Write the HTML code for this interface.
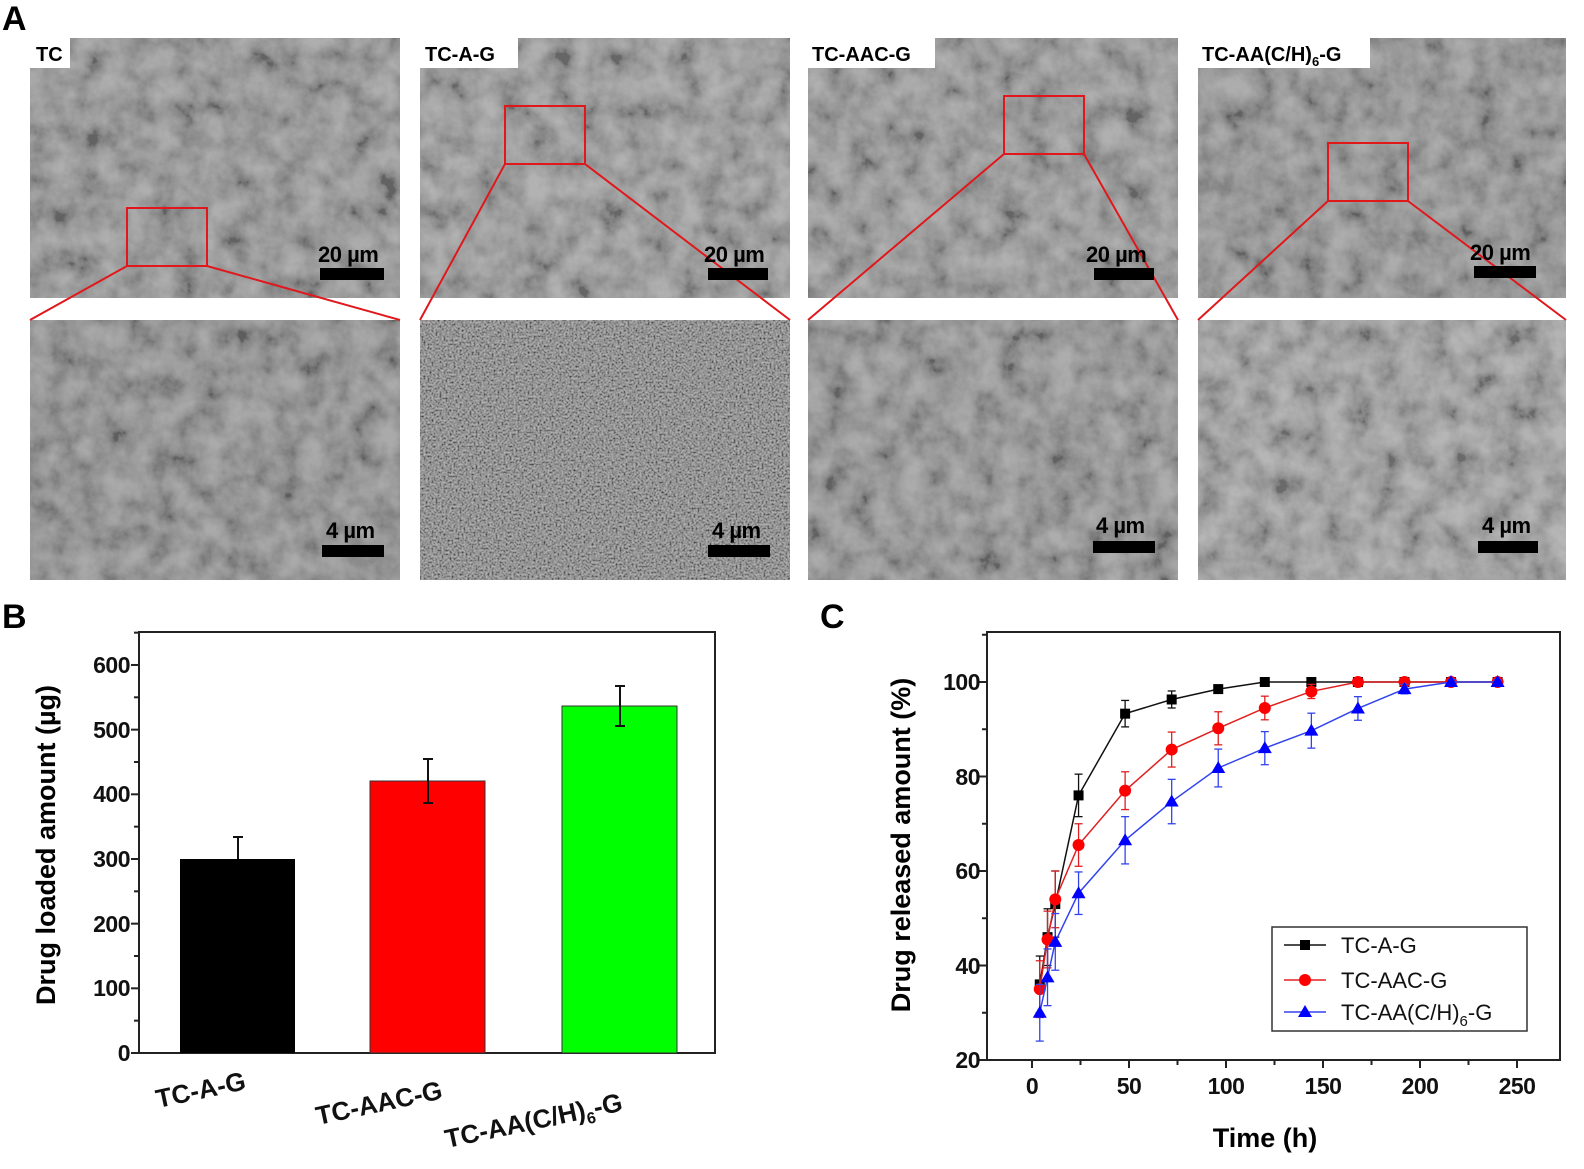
<!DOCTYPE html>
<html><head><meta charset="utf-8"><style>
html,body{margin:0;padding:0;background:#fff;}
svg{display:block;font-family:"Liberation Sans",Arial,sans-serif;}
.b{font-weight:bold;}
</style></head><body>
<svg id="s" width="1584" height="1169" viewBox="0 0 1584 1169" xmlns="http://www.w3.org/2000/svg">
<defs>
<filter id="n1" x="0" y="0" width="100%" height="100%"><feTurbulence type="fractalNoise" baseFrequency="0.04" numOctaves="4" seed="3"/><feColorMatrix type="matrix" values="1.6 0 0 0 -0.3  1.6 0 0 0 -0.3  1.6 0 0 0 -0.3  0 0 0 0 1"/></filter>
<filter id="n2" x="0" y="0" width="100%" height="100%"><feTurbulence type="fractalNoise" baseFrequency="0.5" numOctaves="2" seed="5"/><feColorMatrix type="matrix" values="1.8 0 0 0 -0.45  1.8 0 0 0 -0.45  1.8 0 0 0 -0.45  0 0 0 0 1"/></filter>
</defs>
<text x="2" y="30" class="b" font-size="34">A</text>
<g>
<rect x="30" y="38" width="370" height="260" fill="#8c8c8c"/>
<rect x="420" y="38" width="370" height="260" fill="#929292"/>
<rect x="808" y="38" width="370" height="260" fill="#8f8f8f"/>
<rect x="1198" y="38" width="368" height="260" fill="#8a8a8a"/>
<rect x="30" y="320" width="370" height="260" fill="#868686"/>
<rect x="420" y="320" width="370" height="260" fill="#7c7c7c"/>
<rect x="808" y="320" width="370" height="260" fill="#8a8a8a"/>
<rect x="1198" y="320" width="368" height="260" fill="#989898"/>
</g>
<g opacity="0.3">
<rect x="30" y="38" width="370" height="260" filter="url(#n1)"/>
<rect x="420" y="38" width="370" height="260" filter="url(#n1)"/>
<rect x="808" y="38" width="370" height="260" filter="url(#n1)"/>
<rect x="1198" y="38" width="368" height="260" filter="url(#n1)"/>
<rect x="30" y="320" width="370" height="260" filter="url(#n1)"/>
<rect x="808" y="320" width="370" height="260" filter="url(#n1)"/>
<rect x="1198" y="320" width="368" height="260" filter="url(#n1)"/>
</g>
<rect x="420" y="320" width="370" height="260" filter="url(#n2)" opacity="0.45"/>
<g fill="#fff">
<rect x="30" y="38" width="40" height="30"/><rect x="420" y="38" width="98" height="30"/>
<rect x="808" y="38" width="127" height="30"/><rect x="1198" y="38" width="172" height="30"/>
</g>
<g class="b" font-size="20" fill="#000">
<text x="36" y="61">TC</text><text x="425" y="61">TC-A-G</text><text x="812" y="61">TC-AAC-G</text><text x="1202" y="61">TC-AA(C/H)<tspan font-size="13" dy="5">6</tspan><tspan dy="-5">-G</tspan></text>
</g>
<g fill="none" stroke="#e0181c" stroke-width="2">
<rect x="127" y="208" width="80" height="58"/><line x1="127" y1="266" x2="30" y2="320"/><line x1="207" y1="266" x2="400" y2="320"/>
<rect x="505" y="106" width="80" height="58"/><line x1="505" y1="164" x2="420" y2="320"/><line x1="585" y1="164" x2="790" y2="320"/>
<rect x="1004" y="96" width="80" height="58"/><line x1="1004" y1="154" x2="808" y2="320"/><line x1="1084" y1="154" x2="1178" y2="320"/>
<rect x="1328" y="143" width="80" height="58"/><line x1="1328" y1="201" x2="1198" y2="320"/><line x1="1408" y1="201" x2="1566" y2="320"/>
</g>
<g fill="#000">
<rect x="320" y="268" width="64" height="12"/><rect x="708" y="268" width="60" height="12"/><rect x="1094" y="268" width="60" height="12"/><rect x="1474" y="266" width="62" height="12"/>
<rect x="322" y="545" width="62" height="12"/><rect x="708" y="545" width="62" height="12"/><rect x="1093" y="541" width="62" height="12"/><rect x="1478" y="541" width="60" height="12"/>
</g>
<g class="b" font-size="22" fill="#000" letter-spacing="-0.5">
<text x="318" y="262">20 µm</text><text x="704" y="262">20 µm</text><text x="1086" y="262">20 µm</text><text x="1470" y="260">20 µm</text>
<text x="326" y="538">4 µm</text><text x="712" y="538">4 µm</text><text x="1096" y="533">4 µm</text><text x="1482" y="533">4 µm</text>
</g>

<text x="2" y="628" class="b" font-size="34">B</text>
<rect x="139" y="632" width="576" height="421" fill="none" stroke="#222" stroke-width="2"/>
<rect x="180" y="859" width="115" height="194" fill="#000"/>
<rect x="370" y="781" width="115" height="272" fill="#ff0000" stroke="#333"/>
<rect x="562" y="706" width="115" height="347" fill="#00ff00" stroke="#333"/>
<g stroke="#111" stroke-width="2">
<line x1="238" y1="859" x2="238" y2="837"/><line x1="233" y1="837" x2="243" y2="837"/>
<line x1="428" y1="759" x2="428" y2="803"/><line x1="423" y1="759" x2="433" y2="759"/><line x1="423" y1="803" x2="433" y2="803"/>
<line x1="620" y1="686" x2="620" y2="726"/><line x1="615" y1="686" x2="625" y2="686"/><line x1="615" y1="726" x2="625" y2="726"/>
</g>
<g id="bticks" stroke="#222" stroke-width="2"></g>
<g class="b" font-size="23" text-anchor="end" fill="#111" letter-spacing="-0.5">
<text x="130" y="1061">0</text><text x="130" y="996">100</text><text x="130" y="932">200</text><text x="130" y="867">300</text><text x="130" y="802">400</text><text x="130" y="738">500</text><text x="130" y="673">600</text>
</g>
<text class="b" font-size="27" text-anchor="middle" transform="translate(55,845) rotate(-90)">Drug loaded amount (µg)</text>
<g class="b" font-size="26" fill="#111">
<text transform="translate(158,1108) rotate(-12)">TC-A-G</text>
<text transform="translate(318,1125) rotate(-12)">TC-AAC-G</text>
<text transform="translate(447,1148) rotate(-12)">TC-AA(C/H)<tspan font-size="16" dy="6">6</tspan><tspan dy="-6">-G</tspan></text>
</g>

<text x="820" y="628" class="b" font-size="34">C</text>
<rect x="987" y="632" width="573" height="428" fill="none" stroke="#222" stroke-width="2"/>
<g id="cticks" stroke="#222" stroke-width="2"></g>
<g class="b" font-size="23" text-anchor="end" fill="#111" letter-spacing="-0.5">
<text x="980" y="1068">20</text><text x="980" y="974">40</text><text x="980" y="879">60</text><text x="980" y="785">80</text><text x="980" y="690">100</text>
</g>
<g class="b" font-size="23" text-anchor="middle" fill="#111" letter-spacing="-0.5">
<text x="1032" y="1094">0</text><text x="1129" y="1094">50</text><text x="1226" y="1094">100</text><text x="1323" y="1094">150</text><text x="1420" y="1094">200</text><text x="1517" y="1094">250</text>
</g>
<text x="1265" y="1147" class="b" font-size="27" text-anchor="middle">Time (h)</text>
<text class="b" font-size="27" text-anchor="middle" transform="translate(910,845) rotate(-90)">Drug released amount (%)</text>
<g id="series"></g>
<rect x="1272" y="927" width="255" height="104" fill="#fff" stroke="#333" stroke-width="1.5"/>
<line x1="1284" y1="945" x2="1326" y2="945" stroke="#111" stroke-width="1.5"/><rect x="1300" y="940" width="10" height="10" fill="#000"/>
<line x1="1284" y1="980" x2="1326" y2="980" stroke="#e02020" stroke-width="1.5"/><circle cx="1305" cy="980" r="6" fill="#ff0000"/>
<line x1="1284" y1="1012" x2="1326" y2="1012" stroke="#3344ee" stroke-width="1.5"/><polygon points="1305,1005 1312,1017 1298,1017" fill="#0000ff"/>
<g font-size="22" fill="#111">
<text x="1341" y="953">TC-A-G</text><text x="1341" y="988">TC-AAC-G</text><text x="1341" y="1020">TC-AA(C/H)<tspan font-size="15" dy="6">6</tspan><tspan dy="-6">-G</tspan></text>
</g>
</svg>
<script>
var NS="http://www.w3.org/2000/svg";
function el(p,t,a){var e=document.createElementNS(NS,t);for(var k in a)e.setAttribute(k,a[k]);p.appendChild(e);return e;}
var bt=document.getElementById("bticks");
for(var v=0;v<=650;v+=50){var y=1053-v*0.6467;var L=(v%100==0)?8:5;el(bt,"line",{x1:139-L,y1:y,x2:139,y2:y});}
var ct=document.getElementById("cticks");
for(var v=20;v<=110;v+=10){var y=1060-(v-20)*4.725;var L=(v%20==0)?8:5;el(ct,"line",{x1:987-L,y1:y,x2:987,y2:y});}
for(var t=-25;t<=275;t+=25){var x=1032+t*1.94;if(x<987||x>1560)continue;var L=(t%50==0)?8:5;el(ct,"line",{x1:x,y1:1060,x2:x,y2:1060+L});}
var T=[4,8,12,24,48,72,96,120,144,168,192,216,240];
var S=[
 {c:"#111",f:"#000",m:"s",v:[36,46,53,76,93.3,96.3,98.5,100,100,100,100,100,100],e:[6,6,7,4.5,2.8,1.8,0.8,0,0,0,0,0,0]},
 {c:"#e02020",f:"#ff0000",m:"c",v:[35,45.5,54,65.5,77,85.7,90.2,94.5,98,100,100,100,100],e:[6,6,6,4.5,4,3.7,3.5,2.5,1.5,0,0,0,0]},
 {c:"#3344ee",f:"#0000ff",m:"t",v:[30,37.5,45,55.3,66.5,74.7,81.8,86,89.7,94.4,98.5,100,100],e:[6,6,6,4.5,5,4.7,4,3.5,3.7,2.5,1,0.5,0.5]}];
var g=document.getElementById("series");
function X(t){return 1032+t*1.94;}function Y(v){return 1060-(v-20)*4.725;}
S.forEach(function(s){
 var pts=T.map(function(t,i){return X(t)+","+Y(s.v[i]);}).join(" ");
 el(g,"polyline",{points:pts,fill:"none",stroke:s.c,"stroke-width":1.5});
 T.forEach(function(t,i){var x=X(t),y=Y(s.v[i]),e=s.e[i]*4.725;
  if(e>0){el(g,"line",{x1:x,y1:y-e,x2:x,y2:y+e,stroke:s.c,"stroke-width":1.3});
   el(g,"line",{x1:x-4,y1:y-e,x2:x+4,y2:y-e,stroke:s.c,"stroke-width":1.3});el(g,"line",{x1:x-4,y1:y+e,x2:x+4,y2:y+e,stroke:s.c,"stroke-width":1.3});}
  if(s.m=="s")el(g,"rect",{x:x-5,y:y-5,width:10,height:10,fill:s.f});
  else if(s.m=="c")el(g,"circle",{cx:x,cy:y,r:6,fill:s.f});
  else el(g,"polygon",{points:x+","+(y-7)+" "+(x+7)+","+(y+5)+" "+(x-7)+","+(y+5),fill:s.f});
 });
});
</script>
</body></html>
